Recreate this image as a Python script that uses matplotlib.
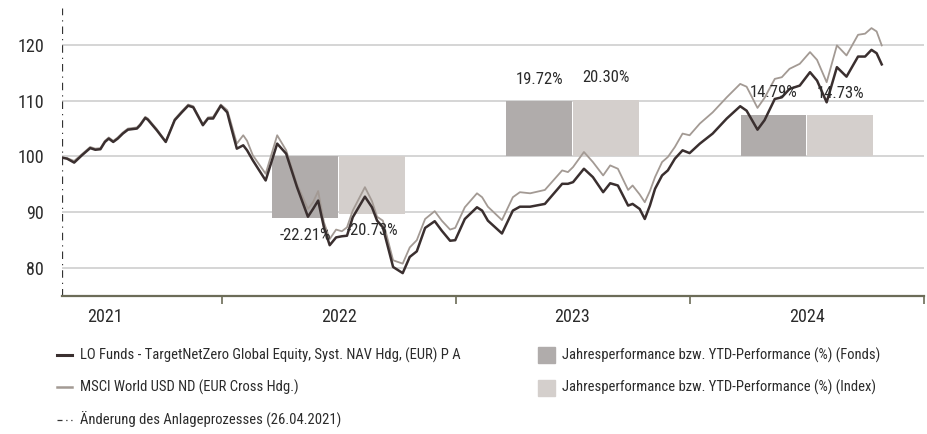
import matplotlib
matplotlib.use("Agg")
import matplotlib.pyplot as plt
from matplotlib.lines import Line2D
from matplotlib.patches import Rectangle
import pandas as pd

plt.rcParams['font.family'] = ['Roboto Condensed', 'Archivo Narrow', 'DejaVu Sans']

# weekly-ish readings of both series (rebased to 100 on 26.04.2021)
dates = [
    "2021-04-26", "2021-05-04", "2021-05-15", "2021-05-27", "2021-06-09", "2021-06-17",
    "2021-06-25", "2021-07-02", "2021-07-08", "2021-07-15", "2021-07-22", "2021-07-30",
    "2021-08-07", "2021-08-21", "2021-08-26", "2021-09-03", "2021-09-07", "2021-09-21",
    "2021-10-05", "2021-10-19", "2021-10-30", "2021-11-09", "2021-11-17", "2021-12-02",
    "2021-12-10", "2021-12-18", "2021-12-30", "2022-01-09", "2022-01-13", "2022-01-24",
    "2022-02-03", "2022-02-09", "2022-02-18", "2022-03-10", "2022-03-28", "2022-04-11",
    "2022-04-28", "2022-05-15", "2022-05-23", "2022-05-31", "2022-06-09", "2022-06-18",
    "2022-06-28", "2022-07-07", "2022-07-15", "2022-07-24", "2022-08-12", "2022-08-23",
    "2022-08-31", "2022-09-09", "2022-09-25", "2022-10-10", "2022-10-21", "2022-11-01",
    "2022-11-14", "2022-11-29", "2022-12-10", "2022-12-23", "2022-12-31", "2023-01-15",
    "2023-02-03", "2023-02-11", "2023-02-20", "2023-03-14", "2023-03-31", "2023-04-11",
    "2023-04-27", "2023-05-20", "2023-06-16", "2023-06-25", "2023-07-03", "2023-07-20",
    "2023-08-03", "2023-08-19", "2023-08-30", "2023-09-11", "2023-09-27", "2023-10-04",
    "2023-10-15", "2023-10-23", "2023-10-31", "2023-11-08", "2023-11-19", "2023-11-28",
    "2023-12-09", "2023-12-21", "2024-01-01", "2024-01-17", "2024-02-06", "2024-02-28",
    "2024-03-20", "2024-03-30", "2024-04-16", "2024-04-27", "2024-05-13", "2024-05-24",
    "2024-06-05", "2024-06-21", "2024-07-07", "2024-07-18", "2024-08-02", "2024-08-18",
    "2024-09-02", "2024-09-20", "2024-10-01", "2024-10-11", "2024-10-19", "2024-10-27",
]
fund = [
    99.8, 99.6, 98.9, 100.2, 101.5, 101.2,
    101.3, 102.6, 103.2, 102.6, 103.2, 104.1,
    104.8, 105.0, 105.6, 106.9, 106.6, 104.7,
    102.6, 106.5, 107.9, 109.1, 108.8, 105.6,
    106.8, 106.8, 109.1, 107.9, 106.1, 101.4,
    102.0, 101.1, 99.3, 95.7, 102.3, 100.5,
    94.5, 89.2, 90.6, 92.1, 87.3, 84.1,
    85.5, 85.7, 85.8, 89.1, 92.8, 90.9,
    88.5, 87.3, 80.2, 79.1, 82.0, 83.0,
    87.2, 88.4, 86.7, 84.9, 85.0, 88.8,
    90.9, 90.3, 88.5, 86.2, 90.3, 91.0,
    91.0, 91.5, 95.1, 95.1, 95.4, 97.8,
    96.3, 93.6, 95.2, 94.8, 91.2, 91.5,
    90.6, 88.8, 91.2, 94.2, 96.6, 97.5,
    99.6, 101.1, 100.6, 102.3, 104.1, 106.8,
    109.0, 108.2, 104.8, 106.5, 110.3, 110.6,
    112.1, 112.7, 115.1, 113.6, 109.7, 116.0,
    114.3, 117.9, 117.9, 119.1, 118.5, 116.5,
]
index = [
    99.8, 99.7, 99.2, 100.4, 101.7, 101.4,
    101.5, 102.8, 103.4, 102.8, 103.4, 104.3,
    105.0, 105.2, 105.8, 107.1, 106.8, 104.9,
    102.7, 106.7, 108.1, 109.3, 109.0, 105.8,
    107.0, 107.1, 109.3, 108.3, 106.8, 102.3,
    103.8, 102.8, 100.2, 96.9, 103.8, 101.1,
    95.0, 90.6, 91.8, 93.8, 88.2, 85.2,
    86.9, 86.6, 87.3, 90.3, 94.5, 92.0,
    89.2, 88.5, 81.4, 80.8, 83.7, 85.0,
    88.8, 90.2, 88.5, 86.9, 87.2, 90.9,
    93.4, 92.7, 91.0, 88.6, 92.7, 93.6,
    93.4, 94.0, 97.5, 97.2, 98.1, 100.8,
    99.0, 96.6, 98.4, 97.8, 94.0, 94.8,
    93.2, 91.8, 93.8, 96.3, 99.0, 99.9,
    101.7, 104.1, 103.8, 105.9, 107.9, 110.6,
    113.0, 112.5, 108.7, 110.5, 113.9, 114.2,
    115.7, 116.6, 118.7, 117.3, 113.3, 119.9,
    118.1, 121.8, 122.0, 123.0, 122.4, 119.9,
]

# yearly / YTD performance in %
perf_years = [2022, 2023, 2024]
perf_fonds = [-22.21, 19.72, 14.79]
perf_index = [-20.73, 20.30, 14.73]

fund_label = "LO Funds - TargetNetZero Global Equity, Syst. NAV Hdg, (EUR) P A"
index_label = "MSCI World USD ND (EUR Cross Hdg.)"
bar_fonds_label = "Jahresperformance bzw. YTD-Performance (%) (Fonds)"
bar_index_label = "Jahresperformance bzw. YTD-Performance (%) (Index)"
change_label = "Änderung des Anlageprozesses (26.04.2021)"
change_date = "2021-04-26"

c_fund = "#3a2f2f"
c_index = "#a39a94"
c_bar_f = "#b0acab"
c_bar_i = "#d4cfcc"
c_axis = "#6c6c58"
c_text = "#2b2b2b"

W, H = 927, 434
fig = plt.figure(figsize=(W / 100, H / 100), dpi=100)
ax = fig.add_axes([62 / W, (H - 296) / H, (924 - 62) / W, (296 - 8) / H])

x = pd.to_datetime(dates)

# grid
for v in [80, 90, 100, 110, 120]:
    ax.axhline(v, color="#d2d2d2", lw=1.3, zorder=0)

# bars (drawn at half scale around the 100 line)
for yr, pf, pi in zip(perf_years, perf_fonds, perf_index):
    mid = pd.Timestamp(f"{yr}-07-02")
    off = pd.Timedelta(days=52)
    wd = pd.Timedelta(days=103)
    for cx, val, col in [(mid - off, pf, c_bar_f), (mid + off, pi, c_bar_i)]:
        ax.bar(cx, val * 0.5, bottom=100, width=wd, color=col, zorder=1)
        top = 100 + val * 0.5
        dy = 16 if val >= 0 else -12
        ax.annotate(f"{val:.2f}%", (cx, top), xytext=(0, dy), textcoords="offset points",
                    ha="center", va="center", fontsize=12, color=c_text, zorder=5)

ax.plot(x, index, color=c_index, lw=1.3, zorder=3)
ax.plot(x, fund, color=c_fund, lw=1.8, zorder=4)

ax.axvline(pd.Timestamp(change_date), color="#333333", lw=0.9,
           linestyle=(0, (6, 4, 1, 4)), zorder=2)

ax.set_xlim(pd.Timestamp("2021-04-26"), pd.Timestamp("2025-01-01"))
ax.set_ylim(75, 126.6)

for s in ["top", "right", "left"]:
    ax.spines[s].set_visible(False)
ax.spines["bottom"].set_color(c_axis)
ax.spines["bottom"].set_linewidth(1.6)

ax.set_yticks([80, 90, 100, 110, 120])
ax.tick_params(axis="y", length=0, pad=13, labelsize=13, labelcolor=c_text)

ax.set_xticks([pd.Timestamp(f"{y}-01-01") for y in [2022, 2023, 2024, 2025]])
ax.set_xticklabels([])
ax.tick_params(axis="x", which="major", length=6, width=1.2, color=c_axis, direction="out")
ax.set_xticks([pd.Timestamp(f"{y}-07-02") for y in [2021, 2022, 2023, 2024]], minor=True)
ax.set_xticklabels(["2021", "2022", "2023", "2024"], minor=True)
ax.tick_params(axis="x", which="minor", length=0, pad=9, labelsize=13, labelcolor=c_text)

# legend, drawn by hand
def fx(px):
    return px / W

def fy(py):
    return 1 - py / H

fig.add_artist(Line2D([fx(57), fx(72)], [fy(355), fy(355)], color=c_fund, lw=2.2))
fig.text(fx(80), fy(355), fund_label, fontsize=10.5, color=c_text, va="center")
fig.add_artist(Line2D([fx(57), fx(72)], [fy(387), fy(387)], color=c_index, lw=1.8))
fig.text(fx(80), fy(387), index_label, fontsize=10.5, color=c_text, va="center")
fig.add_artist(Line2D([fx(57), fx(72)], [fy(420), fy(420)], color="#333333", lw=0.9,
                      linestyle=(0, (4, 3, 1, 3))))
fig.text(fx(80), fy(420), change_label, fontsize=10.5, color=c_text, va="center")

fig.add_artist(Rectangle((fx(538), fy(363)), fx(17), 16 / H, color=c_bar_f))
fig.text(fx(562), fy(355), bar_fonds_label, fontsize=10.5, color=c_text, va="center")
fig.add_artist(Rectangle((fx(538), fy(396)), fx(17), 16 / H, color=c_bar_i))
fig.text(fx(562), fy(387), bar_index_label, fontsize=10.5, color=c_text, va="center")

fig.savefig("out.png", dpi=100)
